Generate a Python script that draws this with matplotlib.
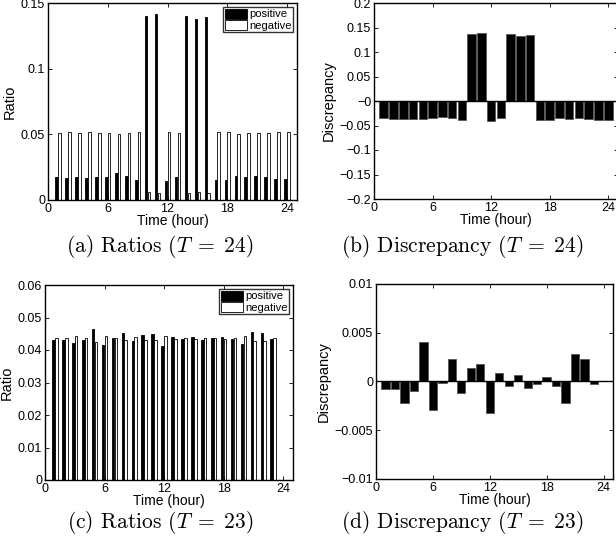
import numpy as np
import matplotlib.pyplot as plt
from matplotlib.ticker import FuncFormatter

plt.rcParams['font.family'] = ['Liberation Sans', 'DejaVu Sans']
plt.rcParams['mathtext.fontset'] = 'cm'

# T = 24
hours24 = np.arange(1, 25)
pos24 = [0.0178, 0.0165, 0.0175, 0.0168, 0.0173, 0.0178, 0.0203, 0.0183, 0.0152,
         0.140, 0.142, 0.0147, 0.0178, 0.140, 0.138, 0.139, 0.0152, 0.0150,
         0.0185, 0.0173, 0.0183, 0.0175, 0.0160, 0.0160]
neg24 = [0.051, 0.0515, 0.051, 0.0515, 0.051, 0.051, 0.050, 0.051, 0.052,
         0.006, 0.005, 0.052, 0.051, 0.005, 0.006, 0.0055, 0.052, 0.052,
         0.0505, 0.051, 0.051, 0.051, 0.0515, 0.0515]
disc24 = [-0.035, -0.037, -0.036, -0.037, -0.036, -0.035, -0.032, -0.035, -0.039,
          0.136, 0.138, -0.040, -0.035, 0.136, 0.133, 0.135, -0.039, -0.039,
          -0.034, -0.036, -0.035, -0.036, -0.038, -0.038]

# T = 23
hours23 = np.arange(1, 24)
pos23 = [0.0431, 0.0431, 0.0421, 0.0431, 0.0466, 0.0415, 0.0436, 0.0452, 0.0429,
         0.0446, 0.0450, 0.0412, 0.0441, 0.0433, 0.0440, 0.0431, 0.0436, 0.0439,
         0.0433, 0.0420, 0.0455, 0.0451, 0.0434]
neg23 = [0.0438, 0.0438, 0.0442, 0.0438, 0.0426, 0.0444, 0.0436, 0.0430, 0.0439,
         0.0432, 0.0431, 0.0444, 0.0433, 0.0438, 0.0435, 0.0438, 0.0436, 0.0435,
         0.0438, 0.0442, 0.0429, 0.0429, 0.0438]
disc23 = [-0.00075, -0.00075, -0.0022, -0.00095, 0.0040, -0.0029, -0.00015, 0.0023,
          -0.0012, 0.0014, 0.0018, -0.0032, 0.00085, -0.00048, 0.00068, -0.0007,
          -0.00027, 0.00044, -0.00048, -0.0022, 0.0028, 0.0023, -0.00027]

xticks = [0, 6, 12, 18, 24]
W, H = 616, 550

fig = plt.figure(figsize=(W / 100, H / 100), dpi=100)


def box(l, r, t, b):
    return [l / W, 1 - b / H, (r - l) / W, (b - t) / H]


fmt = FuncFormatter(lambda v, p: ('%g' % round(v, 6)).replace('-', '\u2212'))


def style(ax, ylim, yticks, ylabel):
    ax.set_xlim(0, 25)
    ax.set_ylim(*ylim)
    ax.set_xticks(xticks)
    ax.set_yticks(yticks)
    ax.yaxis.set_major_formatter(fmt)
    ax.tick_params(direction='in', top=True, right=True, labelsize=9, length=3,
                   width=0.6, pad=2)
    ax.set_xlabel('Time (hour)', fontsize=10, labelpad=-0.5)
    ax.set_ylabel(ylabel, fontsize=10.5, labelpad=3)
    for s in ax.spines.values():
        s.set_linewidth(1.0)


def ratio_plot(ax, x, pos, neg):
    off, bw = 0.143, 0.26
    ax.bar(x - off, pos, width=bw, color='black', edgecolor='black', lw=0.6,
           label='positive')
    ax.bar(x + off, neg, width=bw, color='white', edgecolor='black', lw=0.6,
           label='negative')
    leg = ax.legend(loc='upper right', fontsize=8, frameon=True, fancybox=False,
                    borderpad=0.15, handlelength=2.0, handleheight=1.0,
                    handletextpad=0.15, labelspacing=0.05, borderaxespad=0.35)
    leg.get_frame().set_edgecolor('black')
    leg.get_frame().set_linewidth(1.0)


def disc_plot(ax, x, d):
    ax.bar(x, d, width=0.88, color='black', edgecolor='#555555', lw=0.6)
    ax.axhline(0, color='black', lw=1.0)


ax1 = fig.add_axes(box(48, 297, 3, 200))
ratio_plot(ax1, hours24, pos24, neg24)
style(ax1, (0, 0.15), [0, 0.05, 0.1, 0.15], 'Ratio')

ax2 = fig.add_axes(box(374, 618, 3, 199))
disc_plot(ax2, hours24, disc24)
style(ax2, (-0.2, 0.2), np.arange(-0.2, 0.201, 0.05), 'Discrepancy')

ax3 = fig.add_axes(box(45, 293, 285, 480))
ratio_plot(ax3, hours23, pos23, neg23)
style(ax3, (0, 0.06), np.arange(0, 0.0601, 0.01), 'Ratio')

ax4 = fig.add_axes(box(376, 613, 284, 479))
disc_plot(ax4, hours23, disc23)
style(ax4, (-0.01, 0.01), [-0.01, -0.005, 0, 0.005, 0.01], 'Discrepancy')

plt.rcParams['font.serif'] = ['cmr10']
cap = dict(fontsize=15.5, ha='center', va='center', family='serif',
           math_fontfamily='cm')
fig.text(160 / W, 1 - 246 / H, r'(a) Ratios ($T\;=\;24$)', **cap)
fig.text(462 / W, 1 - 246 / H, r'(b) Discrepancy ($T\;=\;24$)', **cap)
fig.text(160 / W, 1 - 522 / H, r'(c) Ratios ($T\;=\;23$)', **cap)
fig.text(462 / W, 1 - 522 / H, r'(d) Discrepancy ($T\;=\;23$)', **cap)

fig.savefig('out.png', dpi=100)
